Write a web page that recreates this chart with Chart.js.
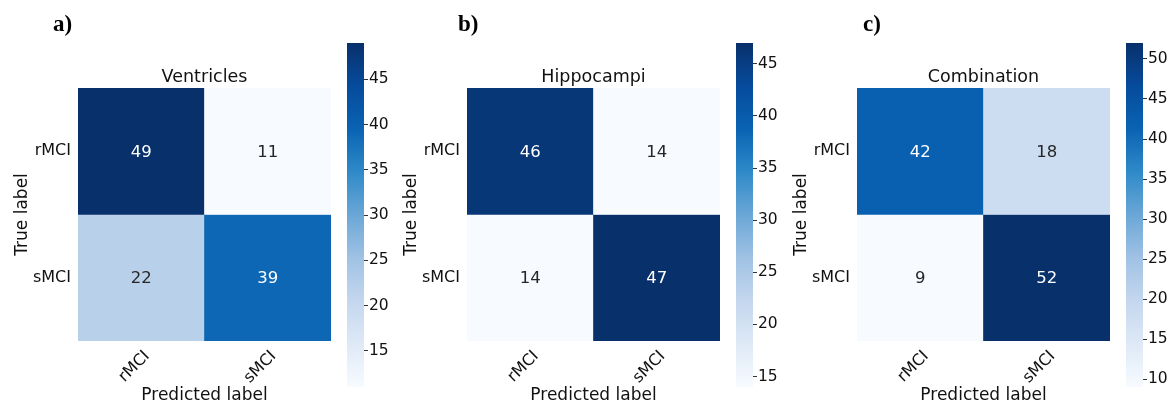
<!DOCTYPE html>
<html>
<head>
<meta charset="utf-8">
<script src="https://cdn.jsdelivr.net/npm/chart.js@4.4.1/dist/chart.umd.min.js"></script>
<style>
  html, body { margin: 0; padding: 0; background: #ffffff; }
  #wrap { position: relative; width: 1169px; height: 403px; overflow: hidden; }
  canvas { position: absolute; top: 0; }
</style>
</head>
<body>
<div id="wrap"></div>
<script>
// ---------------- data ----------------
const categories = ['rMCI', 'sMCI'];
const panelTitles = ['Ventricles', 'Hippocampi', 'Combination'];
const panelLetters = ['a)', 'b)', 'c)'];
const ventricles = [[49, 11], [22, 39]];
const hippocampi = [[46, 14], [14, 47]];
const combination = [[42, 18], [9, 52]];
const ticksVentricles = [15, 20, 25, 30, 35, 40, 45];
const ticksHippocampi = [15, 20, 25, 30, 35, 40, 45];
const ticksCombination = [10, 15, 20, 25, 30, 35, 40, 45, 50];
const matrices = [ventricles, hippocampi, combination];
const colorbarTicks = [ticksVentricles, ticksHippocampi, ticksCombination];

// ---------------- styling / layout ----------------
const panelOffsets = [0, 389, 779];
const letterX = [53, 69, 84];
const FONT = '"DejaVu Sans", Verdana, sans-serif';
const TXT = '#111111';
// Blues-like colormap stops
const cmap = [
  [0.000, [247, 251, 255]],
  [0.125, [222, 233, 246]],
  [0.250, [196, 215, 238]],
  [0.375, [160, 194, 228]],
  [0.500, [106, 167, 214]],
  [0.625, [47, 138, 200]],
  [0.750, [10, 99, 179]],
  [0.875, [6, 75, 156]],
  [1.000, [8, 48, 107]]
];
function cmapRGB(t) {
  t = Math.max(0, Math.min(1, t));
  for (let i = 1; i < cmap.length; i++) {
    if (t <= cmap[i][0]) {
      const [t0, c0] = cmap[i - 1], [t1, c1] = cmap[i];
      const f = (t - t0) / (t1 - t0);
      return c0.map((v, k) => Math.round(v + (c1[k] - v) * f));
    }
  }
  return cmap[cmap.length - 1][1];
}
const rgbStr = c => `rgb(${c[0]},${c[1]},${c[2]})`;
function lum(c) {
  const l = c.map(v => { v /= 255; return v <= 0.03928 ? v / 12.92 : Math.pow((v + 0.055) / 1.055, 2.4); });
  return 0.2126 * l[0] + 0.7152 * l[1] + 0.0722 * l[2];
}

const wrap = document.getElementById('wrap');
function makeCanvas(left, width) {
  const c = document.createElement('canvas');
  c.style.left = left + 'px';
  c.style.width = width + 'px';
  c.style.height = '403px';
  c.width = width; c.height = 403;
  wrap.appendChild(c);
  return c;
}

const annotatePlugin = {
  id: 'annotate',
  afterDatasetsDraw(chart, args, opts) {
    const { ctx, scales } = chart;
    const m = opts.matrix;
    ctx.save();
    ctx.font = '16.5px ' + FONT;
    ctx.textAlign = 'center';
    ctx.textBaseline = 'middle';
    for (let r = 0; r < m.length; r++) {
      for (let c = 0; c < m[r].length; c++) {
        const x = scales.x.getPixelForValue(c);
        const y = scales.y.getPixelForValue(r + 0.5);
        const col = cmapRGB((m[r][c] - opts.vmin) / (opts.vmax - opts.vmin));
        ctx.fillStyle = lum(col) > 0.408 ? '#262626' : '#ffffff';
        ctx.fillText(String(m[r][c]), x, y + 1);
      }
    }
    ctx.restore();
  }
};
const letterPlugin = {
  id: 'letter',
  afterDraw(chart, args, opts) {
    const ctx = chart.ctx;
    ctx.save();
    ctx.font = 'bold 23px "Liberation Serif", "DejaVu Serif", serif';
    ctx.fillStyle = '#000';
    ctx.textAlign = 'left';
    ctx.textBaseline = 'alphabetic';
    ctx.fillText(opts.text, opts.x, 31);
    ctx.restore();
  }
};

matrices.forEach((m, p) => {
  const off = panelOffsets[p];
  const flat = m.flat();
  const vmin = Math.min(...flat), vmax = Math.max(...flat);

  // ---------- heatmap ----------
  const hc = makeCanvas(off, 340);
  const datasets = m.map((row, r) => ({
    data: categories.map(() => [r, r + 1]),
    backgroundColor: row.map(v => rgbStr(cmapRGB((v - vmin) / (vmax - vmin)))),
    borderWidth: 0,
    barPercentage: 1,
    categoryPercentage: 1,
    grouped: false
  }));
  new Chart(hc, {
    type: 'bar',
    data: { labels: categories, datasets },
    plugins: [annotatePlugin, letterPlugin],
    options: {
      responsive: false,
      animation: false,
      layout: { padding: { left: 0, right: 9, top: 67, bottom: 0 } },
      plugins: {
        legend: { display: false },
        tooltip: { enabled: false },
        title: {
          display: true, text: panelTitles[p], fullSize: false,
          color: TXT, font: { family: FONT, size: 17.5, weight: 'normal' },
          padding: { top: 0, bottom: 0 }
        },
        annotate: { matrix: m, vmin, vmax },
        letter: { text: panelLetters[p], x: letterX[p] }
      },
      scales: {
        x: {
          type: 'category',
          grid: { display: false, drawTicks: false },
          border: { display: false },
          ticks: {
            color: TXT, font: { family: FONT, size: 16 },
            minRotation: 45, maxRotation: 45, padding: 6, labelOffset: 6
          },
          title: {
            display: true, text: 'Predicted label', color: TXT,
            font: { family: FONT, size: 17 }, padding: { top: 0, bottom: -3 }
          },
          afterFit: s => { s.height = 62; }
        },
        y: {
          type: 'linear', reverse: true, min: 0, max: 2,
          grid: { display: false, drawTicks: false },
          border: { display: false },
          afterBuildTicks: s => { s.ticks = categories.map((c, i) => ({ value: i + 0.5 })); },
          ticks: {
            color: TXT, font: { family: FONT, size: 16 }, padding: 7,
            callback: (v, i) => categories[i]
          },
          title: {
            display: true, text: 'True label', color: TXT,
            font: { family: FONT, size: 17 }, padding: { top: 12, bottom: 0 }
          },
          afterFit: s => { s.width = 78; }
        }
      }
    }
  });

  // ---------- colorbar ----------
  const cc = makeCanvas(off + 340, 50);
  const tickVals = colorbarTicks[p];
  new Chart(cc, {
    type: 'bar',
    data: {
      labels: [''],
      datasets: [{
        data: [[vmin, vmax]],
        borderWidth: 0,
        barPercentage: 1,
        categoryPercentage: 1,
        backgroundColor: (ctx) => {
          const chart = ctx.chart;
          const { chartArea, scales } = chart;
          if (!chartArea || !scales.y) return rgbStr(cmapRGB(0.5));
          const y0 = scales.y.getPixelForValue(vmin), y1 = scales.y.getPixelForValue(vmax);
          const g = chart.ctx.createLinearGradient(0, y0, 0, y1);
          cmap.forEach(([t, c]) => g.addColorStop(t, rgbStr(c)));
          return g;
        }
      }]
    },
    options: {
      responsive: false,
      animation: false,
      layout: { padding: { left: 7, right: 0, top: 43, bottom: 16 } },
      plugins: { legend: { display: false }, tooltip: { enabled: false } },
      scales: {
        x: { display: false },
        y: {
          position: 'right', min: vmin, max: vmax,
          grid: { drawOnChartArea: false, drawTicks: true, tickLength: 4, color: '#333', lineWidth: 1 },
          border: { display: false },
          afterBuildTicks: s => { s.ticks = tickVals.map(v => ({ value: v })); },
          ticks: { color: TXT, font: { family: FONT, size: 15.5 }, padding: 1 },
          afterFit: s => { s.width = 26; }
        }
      }
    }
  });
});
</script>
</body>
</html>
